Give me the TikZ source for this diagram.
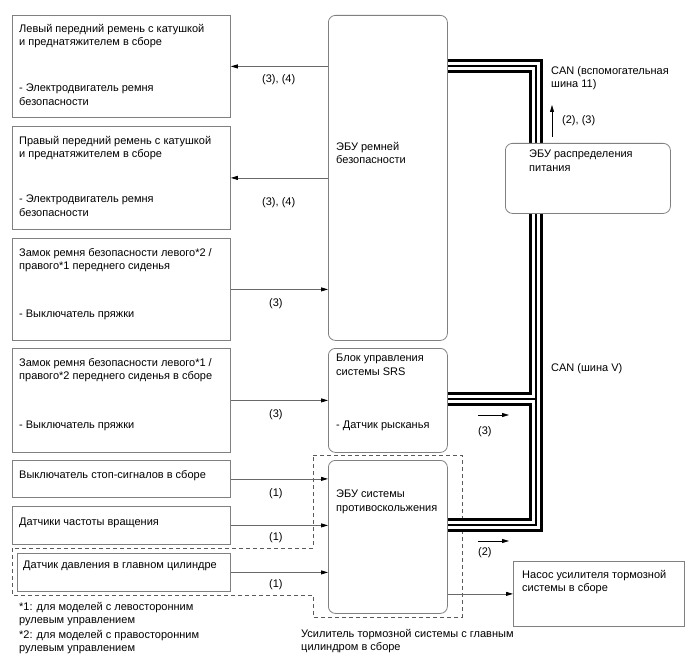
\documentclass[tikz,border=0pt]{standalone}
\usepackage{fontspec}
\setmainfont{Liberation Sans}
\usetikzlibrary{arrows.meta,positioning}

\definecolor{boxgray}{RGB}{128,128,128}
\definecolor{wiregray}{RGB}{105,105,105}
\definecolor{dashgray}{RGB}{90,90,90}

\tikzset{
  part/.style={draw=boxgray, line width=0.8pt, anchor=north west, inner sep=0pt},
  ecu/.style={part, rounded corners=7pt},
  txt/.style={anchor=north west, inner sep=0pt, yshift=7pt, align=left,
    font=\fontsize{11}{13.5}\selectfont, execute at begin node=\strut},
  sig/.style={draw=wiregray, line width=0.8pt, -{Triangle[length=7pt,width=4pt,color=black]}},
}

\begin{document}
\begin{tikzpicture}[x=1pt, y=-1pt]
    \useasboundingbox (0,0) rectangle (688,658);

    % Brake booster assembly (dashed outline)
    \draw[dashgray, line width=0.8pt, dash pattern=on 4pt off 3pt]
        (313,455) -- (462,455) -- (462,617) -- (313,617) -- (313,595)
        -- (12,595) -- (12,548) -- (313,548) -- cycle;

    % Left column
    \node[part, minimum width=218pt, minimum height=102pt] (lbelt) at (12,15) {};
    \node[part, minimum width=218pt, minimum height=103pt] (rbelt) at (12,126) {};
    \node[part, minimum width=218pt, minimum height=102pt] (lbuckle) at (12,238) {};
    \node[part, minimum width=218pt, minimum height=104pt] (rbuckle) at (12,348) {};
    \node[part, minimum width=218pt, minimum height=37pt] (stopsw) at (12,460) {};
    \node[part, minimum width=218pt, minimum height=38pt] (speedsns) at (12,506) {};
    \node[part, minimum width=213pt, minimum height=38pt] (mcsns) at (17,553) {};

    \node[txt] (lbelt-a) at (19,31) {Левый передний ремень с катушкой\\и преднатяжителем в сборе};
    \node[txt] (lbelt-b) at (19,91) {- Электродвигатель ремня\\безопасности};
    \node[txt] (rbelt-a) at (19,143) {Правый передний ремень с катушкой\\и преднатяжителем в сборе};
    \node[txt] (rbelt-b) at (19,202) {- Электродвигатель ремня\\безопасности};
    \node[txt] (lbuckle-a) at (19,255) {Замок ремня безопасности левого*2 /\\правого*1 переднего сиденья};
    \node[txt] (lbuckle-b) at (19,315) {- Выключатель пряжки};
    \node[txt] (rbuckle-a) at (19,365) {Замок ремня безопасности левого*1 /\\правого*2 переднего сиденья в сборе};
    \node[txt] (rbuckle-b) at (19,426) {- Выключатель пряжки};
    \node[txt] (stopsw-a) at (19,476) {Выключатель стоп-сигналов в сборе};
    \node[txt] (speedsns-a) at (19,523) {Датчики частоты вращения};
    \node[txt] (mcsns-a) at (23,566) {Датчик давления в главном цилиндре};

    % ECUs
    \node[ecu, minimum width=119pt, minimum height=325pt] (ecubelt) at (328,15) {};
    \node[ecu, minimum width=119pt, minimum height=104pt] (srs) at (328,348) {};
    \node[ecu, minimum width=119pt, minimum height=153pt] (abs) at (328,460) {};

    \node[txt] (ecubelt-a) at (336,149) {ЭБУ ремней\\безопасности};
    \node[txt] (srs-a) at (336,361) {Блок управления\\системы SRS};
    \node[txt] (srs-b) at (336,426) {- Датчик рысканья};
    \node[txt] (abs-a) at (336,497) {ЭБУ системы\\противоскольжения};

    % CAN bus
    \coordinate (cantop) at (536,66);
    \coordinate (canbot) at (536,525);
    \coordinate (canjoin) at (536,399);
    \foreach \w/\c in {14pt/black, 7.5pt/white, 1.3pt/black} {
        \draw[line width=\w, \c, line join=miter]
            (ecubelt.east |- cantop) -- (cantop) -- (canbot) -- (abs.east |- canbot);
        \draw[line width=\w, \c] (srs.east |- canjoin) -- (canjoin);
    }

    \node[ecu, fill=white, minimum width=165pt, minimum height=70pt] (pdecu) at (505,143) {};
    \node[txt] (pdecu-a) at (529,157) {ЭБУ распределения\\питания};
    \node[part, minimum width=171pt, minimum height=65pt] (pump) at (513,561) {};
    \node[txt] (pump-a) at (522,577) {Насос усилителя тормозной\\системы в сборе};

    % Signals
    \draw[sig] (ecubelt.west |- lbelt.east) -- (lbelt.east);
    \draw[sig] (ecubelt.west |- rbelt.east) -- (rbelt.east);
    \draw[sig] (lbuckle.east) -- (ecubelt.west |- lbuckle.east);
    \draw[sig] (rbuckle.east) -- (srs.west |- rbuckle.east);
    \draw[sig] (stopsw.east) -- (abs.west |- stopsw.east);
    \draw[sig] (speedsns.east) -- (abs.west |- speedsns.east);
    \draw[sig] (mcsns.east) -- (abs.west |- mcsns.east);
    \draw[sig] (abs.east |- pump.west) -- (pump.west);

    \node[txt] (sig1) at (262,80) {(3), (4)};
    \node[txt] (sig2) at (262,203) {(3), (4)};
    \node[txt] (sig3) at (269,304) {(3)};
    \node[txt] (sig4) at (269,415) {(3)};
    \node[txt] (sig5) at (269,494) {(1)};
    \node[txt] (sig6) at (269,538) {(1)};
    \node[txt] (sig7) at (269,585) {(1)};

    % Bus directions
    \coordinate (up0) at (552,137);
    \coordinate (up1) at (552,105);
    \coordinate (srsdir0) at (478,415);
    \coordinate (srsdir1) at (509,415);
    \coordinate (absdir0) at (478,541);
    \coordinate (absdir1) at (509,541);
    \draw[sig, draw=black] (up0) -- (up1);
    \draw[sig, draw=black] (srsdir0) -- (srsdir1);
    \draw[sig, draw=black] (absdir0) -- (absdir1);

    \node[txt] (can11) at (551,73) {CAN (вспомогательная\\шина 11)};
    \node[txt] (updir) at (562,121) {(2), (3)};
    \node[txt] (canv) at (551,369) {CAN (шина V)};
    \node[txt] (srsdir) at (478,432) {(3)};
    \node[txt] (absdir) at (478,553) {(2)};

    % Notes
    \node[txt] (note1) at (19,609) {*1: для моделей с левосторонним\\рулевым управлением};
    \node[txt] (note2) at (19,637) {*2: для моделей с правосторонним\\рулевым управлением};
    \node[txt] (booster) at (301,636) {Усилитель тормозной системы с главным\\цилиндром в сборе};
\end{tikzpicture}
\end{document}
